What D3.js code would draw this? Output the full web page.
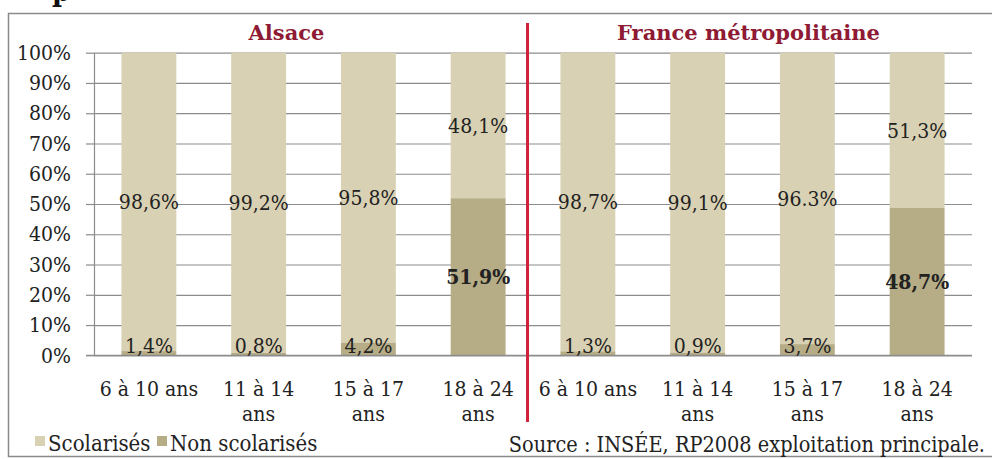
<!DOCTYPE html>
<html>
<head>
<meta charset="utf-8">
<script src="https://cdn.jsdelivr.net/npm/d3@7"></script>
<style>
  body { margin: 0; background: #fff; }
  svg text { font-family: "DejaVu Serif Condensed", "DejaVu Serif", serif; font-stretch: condensed; }
</style>
</head>
<body>
<div id="container"></div>
<script>
/* CONSTANTS AND GLOBALS */
const width = 992,
  height = 459,
  margin = { top: 52.7, bottom: 103.7, left: 94, right: 20 };

/* DATA */
const groups = ["Alsace", "France métropolitaine"]
const ages = ["6 à 10 ans", "11 à 14 ans", "15 à 17 ans", "18 à 24 ans"]
const scolarises = [98.6, 99.2, 95.8, 48.1, 98.7, 99.1, 96.3, 51.3]
const nonScolarises = [1.4, 0.8, 4.2, 51.9, 1.3, 0.9, 3.7, 48.7]
const scolLabels = ["98,6%", "99,2%", "95,8%", "48,1%", "98,7%", "99,1%", "96.3%", "51,3%"]
const nonScolLabels = ["1,4%", "0,8%", "4,2%", "51,9%", "1,3%", "0,9%", "3,7%", "48,7%"]
const yTicks = [0, 10, 20, 30, 40, 50, 60, 70, 80, 90, 100]
const seriesNames = ["Scolarisés", "Non scolarisés"]
const colors = ["#d9d1b3", "#b6ac86"]
const source = "Source : INSÉE, RP2008 exploitation principale."

// one row per bar
const keys = []
groups.forEach(g => ages.forEach(a => keys.push(g + "|" + a)))
const data = keys.map((k, i) => ({
  key: k,
  age: k.split("|")[1],
  scol: scolarises[i],
  non: nonScolarises[i],
  scolLabel: scolLabels[i],
  nonLabel: nonScolLabels[i],
  bold: i % 4 === 3
}))

/* SCALES */
const xScale = d3.scaleBand()
  .domain(keys)
  .range([margin.left, width - margin.right])
  .paddingInner(0.5)
  .paddingOuter(0.25)

const yScale = d3.scaleLinear()
  .domain([0, 100])
  .range([height - margin.bottom, margin.top])

/* SVG */
const svg = d3.select("#container")
  .append("svg")
  .attr("width", width)
  .attr("height", height)

// outer frame
svg.append("rect")
  .attr("x", 8.5)
  .attr("y", 13.5)
  .attr("width", 995)
  .attr("height", 443)
  .attr("fill", "none")
  .attr("stroke", "#8a8a8a")
  .attr("stroke-width", 1.5)

// cut-off glyph from the line above
svg.append("text")
  .attr("x", 52)
  .attr("y", 1)
  .attr("font-size", 30)
  .attr("font-weight", "bold")
  .attr("fill", "#111")
  .text("p")

/* GRIDLINES */
const gridAxis = d3.axisLeft(yScale)
  .tickValues(yTicks)
  .tickSize(width - margin.right - margin.left)
  .tickFormat("")
svg.append("g")
  .attr("class", "grid")
  .attr("transform", `translate(${width - margin.right}, 0)`)
  .call(gridAxis)
  .call(g => g.select(".domain").remove())
  .call(g => g.selectAll("line").attr("stroke", "#8c8c8c").attr("stroke-width", 1.2))

/* Y AXIS */
const yAxis = d3.axisLeft(yScale)
  .tickValues(yTicks)
  .tickFormat(d => d + "%")
  .tickSize(8)
  .tickSizeOuter(0)
  .tickPadding(15)
svg.append("g")
  .attr("class", "yAxis")
  .attr("transform", `translate(${margin.left}, 0)`)
  .call(yAxis)
  .call(g => g.select(".domain").attr("stroke", "#8c8c8c").attr("stroke-width", 1.2))
  .call(g => g.selectAll("line").attr("stroke", "#8c8c8c").attr("stroke-width", 1.2))
  .call(g => g.selectAll("text")
    .attr("font-size", 21)
    .attr("fill", "#222")
    .style("font-family", null))

/* BARS */
const bw = xScale.bandwidth()
const barG = svg.append("g").attr("class", "bars")

barG.selectAll(".bar-scol")
  .data(data)
  .join("rect")
  .attr("class", "bar-scol")
  .attr("x", d => xScale(d.key))
  .attr("width", bw)
  .attr("y", d => yScale(d.non + d.scol))
  .attr("height", d => yScale(d.non) - yScale(d.non + d.scol))
  .attr("fill", colors[0])

barG.selectAll(".bar-non")
  .data(data)
  .join("rect")
  .attr("class", "bar-non")
  .attr("x", d => xScale(d.key))
  .attr("width", bw)
  .attr("y", d => yScale(d.non))
  .attr("height", d => yScale(0) - yScale(d.non))
  .attr("fill", colors[1])

// base line at 0%
svg.append("line")
  .attr("x1", margin.left - 8)
  .attr("x2", width - margin.right)
  .attr("y1", yScale(0))
  .attr("y2", yScale(0))
  .attr("stroke", "#8c8c8c")
  .attr("stroke-width", 1.2)

/* DATA LABELS */
const labelG = svg.append("g").attr("class", "labels")
  .attr("font-size", 21)
  .attr("fill", "#222")
  .attr("text-anchor", "middle")

labelG.selectAll(".lab-scol")
  .data(data)
  .join("text")
  .attr("class", "lab-scol")
  .attr("x", d => xScale(d.key) + bw / 2)
  .attr("y", d => yScale(d.non + d.scol / 2))
  .attr("dy", "0.35em")
  .text(d => d.scolLabel)

labelG.selectAll(".lab-non")
  .data(data)
  .join("text")
  .attr("class", "lab-non")
  .attr("x", d => xScale(d.key) + bw / 2)
  .attr("y", d => Math.min(yScale(d.non / 2), yScale(0) - 10))
  .attr("dy", "0.35em")
  .attr("font-weight", d => d.bold ? "bold" : null)
  .text(d => d.nonLabel)

/* X AXIS */
const xAxis = d3.axisBottom(xScale)
  .tickSize(0)
  .tickPadding(26)
  .tickFormat(k => k.split("|")[1])
svg.append("g")
  .attr("class", "xAxis")
  .attr("transform", `translate(0, ${yScale(0)})`)
  .call(xAxis)
  .call(g => g.select(".domain").remove())
  .call(g => g.selectAll("text")
    .attr("font-size", 21)
    .attr("fill", "#222")
    .style("font-family", null)
    .call(wrap, xScale.step()))

function wrap(texts, w) {
  texts.each(function () {
    const text = d3.select(this)
    const full = text.text()
    if (this.getComputedTextLength() <= w) return
    const words = full.split(" ")
    const last = words.pop()
    const y = text.attr("y"), dy = text.attr("dy")
    text.text(null)
    text.append("tspan").attr("x", 0).attr("y", y).attr("dy", dy).text(words.join(" "))
    text.append("tspan").attr("x", 0).attr("dy", 25).text(last)
  })
}

/* DIVIDER */
const lastAlsace = groups[0] + "|" + ages[ages.length - 1]
const divX = xScale(lastAlsace) + bw + xScale.step() * 0.2
svg.append("line")
  .attr("x1", divX)
  .attr("x2", divX)
  .attr("y1", 23)
  .attr("y2", 422)
  .attr("stroke", "#d2213b")
  .attr("stroke-width", 3)

/* GROUP TITLES */
const titleOffsets = [-27, -4]
groups.forEach((g, gi) => {
  const first = xScale(g + "|" + ages[0])
  const last = xScale(g + "|" + ages[ages.length - 1]) + bw
  svg.append("text")
    .attr("x", (first + last) / 2 + titleOffsets[gi])
    .attr("y", 40)
    .attr("text-anchor", "middle")
    .attr("font-size", 21)
    .attr("font-weight", "bold")
    .attr("fill", "#8e1a33")
    .style("font-family", "'DejaVu Serif', serif")
    .style("font-stretch", "normal")
    .text(g)
})

/* LEGEND */
const legendX = [35, 157]
const legend = svg.append("g").attr("class", "legend")
seriesNames.forEach((name, i) => {
  legend.append("rect")
    .attr("x", legendX[i])
    .attr("y", 436)
    .attr("width", 10)
    .attr("height", 10)
    .attr("fill", colors[i])
  legend.append("text")
    .attr("x", legendX[i] + 13)
    .attr("y", 451)
    .attr("font-size", 22)
    .attr("fill", "#222")
    .text(name)
})

/* SOURCE */
svg.append("text")
  .attr("x", 985)
  .attr("y", 452)
  .attr("text-anchor", "end")
  .attr("font-size", 21.5)
  .attr("fill", "#222")
  .text(source)
</script>
</body>
</html>
